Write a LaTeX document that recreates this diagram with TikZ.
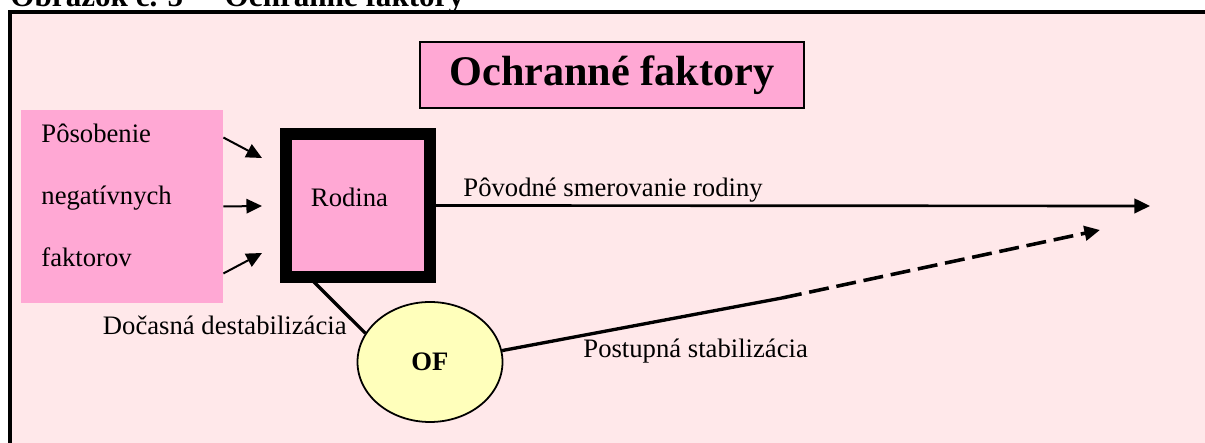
\documentclass[tikz,border=0pt]{standalone}
\usepackage{fontspec}
\setmainfont{Liberation Serif}
\usetikzlibrary{arrows.meta,calc,shapes.geometric}

\definecolor{framepink}{RGB}{255,232,234}
\definecolor{boxpink}{RGB}{255,168,212}
\definecolor{ofyellow}{RGB}{255,255,187}

\begin{document}
\begin{tikzpicture}[x=0.45pt, y=0.45pt,
  lbl/.style={inner sep=0pt, font=\fontsize{12}{14}\selectfont},
  push/.style={-{Triangle[length=7pt,width=6.5pt]}, line width=0.9pt},
  course/.style={-{Triangle[length=7pt,width=6.5pt]}, line width=1.2pt},
  path/.style={line width=1.5pt},
  future/.style={-{Triangle[length=7pt,width=6.5pt]}, line width=1.6pt,
    dash pattern=on 9pt off 3.5pt}]
% Units: one unit = one pixel of the 1205 x 443 layout, y going up.
\def\pxu{0.45pt}
\useasboundingbox (0,0) rectangle (1205,443);
\clip (0,0) rectangle (1205,443);

% --- Frame and caption (both run past the page) ---
\fill[framepink] (9.5,-30) rectangle (1240,430.5);
\draw[line width=1.8pt] (9.5,-30) -- (9.5,430.5) -- (1240,430.5);
\node[inner sep=0pt, anchor=base west, font=\fontsize{14}{16}\selectfont\bfseries]
  (caption) at (10,436) {Obrázok č. 5 \,–\, Ochranné faktory};

% --- Title ---
\node[draw, line width=0.7pt, fill=boxpink, minimum width={384*\pxu},
  minimum height={66*\pxu}, font=\fontsize{19}{22}\selectfont\bfseries]
  (title) at (612,368) {Ochranné faktory};

% --- Negative factors ---
\node[fill=boxpink, minimum width={202*\pxu}, minimum height={193*\pxu}]
  (factors) at (122,236.5) {};
\node[lbl, anchor=base west] (fac1) at (41,300) {Pôsobenie};
\node[lbl, anchor=base west] (fac2) at (41,238) {negatívnych};
\node[lbl, anchor=base west] (fac3) at (41,176) {faktorov};

% --- Family ---
\node[draw, line width=5.4pt, fill=boxpink, minimum width={144*\pxu},
  minimum height={143*\pxu}] (rodina) at (358,237.5) {};
\node[lbl] (rodinatext) at (349.5,246) {Rodina};

\coordinate (hit1) at (262,190);
\coordinate (hit2) at (262,237);
\coordinate (hit3) at (262,285);
\draw[push] ($(factors.north east)+(0,-28)$) -- (hit3);
\draw[push] (factors.east) -- (hit2);
\draw[push] ($(factors.south east)+(0,30)$) -- (hit1);

% --- Original course ---
\coordinate (courseend) at (1150,237);
\draw[course] (rodina.east) -- (courseend);
\node[lbl, anchor=base west] (courselbl) at (463,246) {Pôvodné smerovanie rodiny};

% --- Protective factors ---
\node[draw, line width=0.8pt, fill=ofyellow, ellipse, inner sep=0pt,
  minimum width={145*\pxu}, minimum height={120*\pxu},
  font=\fontsize{12}{14}\selectfont\bfseries] (of) at (430,81) {OF};
\draw[path] ($(rodina.south west)+(33,2)$) -- (of.156);
\node[lbl, anchor=base east] (destab) at (347,108) {Dočasná destabilizácia};

\coordinate (knee) at (782,145);
\coordinate (stabend) at (1100,213);
\draw[path] (of.9) -- (knee);
\draw[future] (knee) -- (stabend);
\node[lbl, anchor=base west] (stab) at (583,85) {Postupná stabilizácia};
\end{tikzpicture}
\end{document}
